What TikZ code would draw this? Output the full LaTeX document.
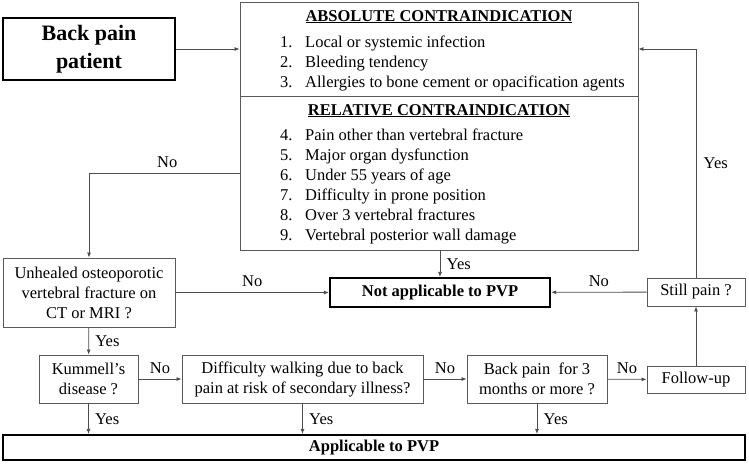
\documentclass[tikz,border=0pt]{standalone}
\usepackage{fontspec}
\setmainfont{Liberation Serif}
\usetikzlibrary{arrows.meta,positioning,calc}

\begin{document}
\begin{tikzpicture}[x=1pt,y=-1pt,font=\fontsize{16.5}{20}\selectfont]
\tikzset{BOX/.style={draw=black!65,line width=0.9pt,rectangle,align=center,inner sep=0pt}}
\tikzset{RESULT/.style={draw=black,line width=2.2pt,rectangle,align=center,inner sep=0pt,font=\fontsize{16.5}{20}\selectfont\bfseries}}
\tikzset{FLOW/.style={draw=black!70,line width=0.8pt,-{Latex[length=5pt,width=4pt]}}}
\tikzset{ITEM/.style={anchor=base west,inner sep=0pt}}

\useasboundingbox (0,0) rectangle (749,464);

\node[RESULT,minimum width=172,minimum height=62,font=\fontsize{22}{28}\selectfont\bfseries] (patient) at (89,49) {Back pain\\patient};
\node[BOX,minimum width=398,minimum height=94] (absolute) at (439,49) {};
\node[BOX,minimum width=398,minimum height=154] (relative) at (439,173) {};

% contraindication lists
\node[ITEM,anchor=base,font=\fontsize{16.5}{20}\selectfont\bfseries] (absolute title) at (439,21) {\underline{ABSOLUTE CONTRAINDICATION}};
\foreach \txt [count=\i] in {Local or systemic infection,Bleeding tendency,Allergies to bone cement or opacification agents} {
  \node[ITEM] (abs num \i) at (280,27+20*\i) {\i.};
  \node[ITEM] (abs item \i) at (305,27+20*\i) {\txt};
}
\node[ITEM,anchor=base,font=\fontsize{16.5}{20}\selectfont\bfseries] (relative title) at (439,115) {\underline{RELATIVE CONTRAINDICATION}};
\foreach \n/\txt in {4/Pain other than vertebral fracture,5/Major organ dysfunction,6/Under 55 years of age,7/Difficulty in prone position,8/Over 3 vertebral fractures,9/Vertebral posterior wall damage} {
  \node[ITEM] (rel num \n) at (280,60+20*\n) {\n.};
  \node[ITEM] (rel item \n) at (305,60+20*\n) {\txt};
}

\node[BOX,minimum width=172,minimum height=69] (unhealed) at (89,292.5) {Unhealed osteoporotic\\vertebral fracture on\\CT or MRI ?};
\node[RESULT,minimum width=220,minimum height=29] (not applicable) at (440,292.5) {Not applicable to PVP};
\node[BOX,minimum width=98,minimum height=28] (still pain) at (696,292) {Still pain ?};
\node[BOX,minimum width=99,minimum height=48] (kummell) at (88.5,379) {Kummell's\\disease ?};
\node[BOX,minimum width=241,minimum height=48] (difficulty) at (302.5,379) {Difficulty walking due to back\\pain at risk of secondary illness?};
\node[BOX,minimum width=140,minimum height=48] (duration) at (537,379) {Back pain\ \ for 3\\months or more ?};
\node[BOX,minimum width=98,minimum height=27] (follow up) at (696,379.5) {Follow-up};
\node[RESULT,minimum width=742,minimum height=25] (applicable) at (374,447.5) {Applicable to PVP};

\path[FLOW] (patient) -- (absolute.west |- patient.east);
\path[FLOW] (still pain.north) |- node[pos=0.25,right=4pt] {Yes} (absolute.east);
\path[FLOW] (relative.west) -| node[pos=0.24,above=2pt] {No} (unhealed.north);
\path[FLOW] (not applicable.north |- relative.south) -- node[right=3pt] {Yes} (not applicable.north);
\path[FLOW] (unhealed) -- node[above=2pt] {No} (not applicable);
\path[FLOW] (still pain) -- node[above=2pt] {No} (not applicable);
\path[FLOW] (unhealed) -- node[right=3pt] {Yes} (kummell);
\path[FLOW] (kummell) -- node[above=2pt] {No} (difficulty);
\path[FLOW] (difficulty) -- node[above=2pt] {No} (duration);
\path[FLOW] (duration) -- node[above=2pt] {No} (follow up);
\path[FLOW] (follow up) -- (still pain);
\path[FLOW] (kummell) -- node[right=3pt] {Yes} (kummell |- applicable.north);
\path[FLOW] (difficulty) -- node[right=3pt] {Yes} (difficulty |- applicable.north);
\path[FLOW] (duration) -- node[right=3pt] {Yes} (duration |- applicable.north);

\end{tikzpicture}
\end{document}
